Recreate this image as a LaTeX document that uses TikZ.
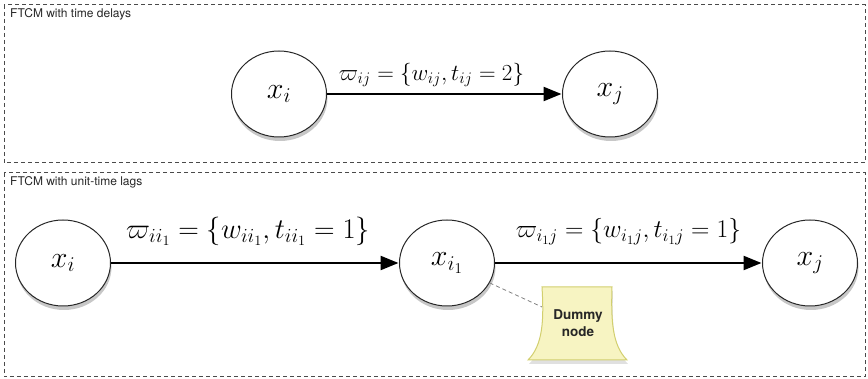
\RequirePackage{fix-cm}
\documentclass[tikz,border=0pt]{standalone}
\usepackage{fontspec}
\newfontfamily\helv{TeX Gyre Heros}
\usetikzlibrary{shapes.geometric,arrows.meta,shadows}
\definecolor{boxgray}{HTML}{4A4A4A}
\definecolor{dumfill}{HTML}{F7F4C2}
\definecolor{dumdraw}{HTML}{D2CF6E}
\tikzset{
  frame/.style={draw=boxgray, line width=1pt, dash pattern=on 4pt off 3pt},
  framelabel/.style={anchor=base west, inner sep=0pt, font=\helv\fontsize{12}{14}\selectfont, text=black!85},
  var/.style={ellipse, draw=black!85, line width=1pt, fill=white, minimum width=95pt, minimum height=86pt, inner sep=0pt,
    font=\fontsize{30}{36}\selectfont,
    drop shadow={shadow xshift=1pt, shadow yshift=-4pt, opacity=0.22, fill=black}},
  link/.style={line width=2.4pt, -{Triangle[length=18pt,width=14pt]}, shorten >=0.5pt},
  wlabel/.style={font=\fontsize{23}{28}\selectfont, inner sep=0pt},
  wlabelbig/.style={font=\fontsize{25.5}{30}\selectfont, inner sep=0pt},
  wlabelhuge/.style={font=\fontsize{28.5}{34}\selectfont, inner sep=0pt},
  note/.style={draw=boxgray!70, line width=0.8pt, dash pattern=on 4pt off 3pt}
}
\begin{document}
\begin{tikzpicture}[x=1pt,y=-1pt]
\useasboundingbox (0,0) rectangle (868,379);
% frames
\draw[frame] (4,5) rectangle (865,163);
\draw[frame] (4,173) rectangle (865,377);
\node[framelabel] (lab1) at (10,18) {FTCM with time delays};
\node[framelabel] (lab2) at (10,186) {FTCM with unit-time lags};
% top
\node[var] (ti) at (279,94) {$x_i$};
\node[var] (tj) at (610,94) {$x_j$};
\draw[link] (ti) -- (tj) node[wlabel, midway, above=6pt, xshift=-13pt] (tl) {$\varpi_{ij}=\{w_{ij},t_{ij}=2\}$};
% bottom
\node[var] (bi) at (63,263) {$x_i$};
\node[var] (bi1) at (447,263) {$x_{i_1}$};
\node[var] (bj) at (810,263) {$x_j$};
\draw[link] (bi) -- (bi1) node[wlabelhuge, midway, above=16pt, xshift=-7pt] (bl1) {$\varpi_{ii_1}=\{w_{ii_1},t_{ii_1}=1\}$};
\draw[link] (bi1) -- (bj) node[wlabelbig, midway, above=17pt] (bl2) {$\varpi_{i_1j}=\{w_{i_1j},t_{i_1j}=1\}$};
% dummy note
\fill[black, opacity=0.12] (543,291) -- (613,291) .. controls (612,324) and (613,349) .. (628,364) -- (529,364) .. controls (544,349) and (545,324) .. (543,291) -- cycle;
\draw[dumdraw, fill=dumfill, line width=1pt] (542,287) -- (612,287) .. controls (611,320) and (612,345) .. (627,360) -- (528,360) .. controls (543,345) and (544,320) .. (542,287) -- cycle;
\node[font=\helv\bfseries\fontsize{13.5}{17}\selectfont, align=center, inner sep=0pt, text=black!85] (dum) at (578,323) {Dummy\\node};
\coordinate (dl) at (542,307);
\draw[note] (bi1.-25) -- (dl);
\end{tikzpicture}
\end{document}
